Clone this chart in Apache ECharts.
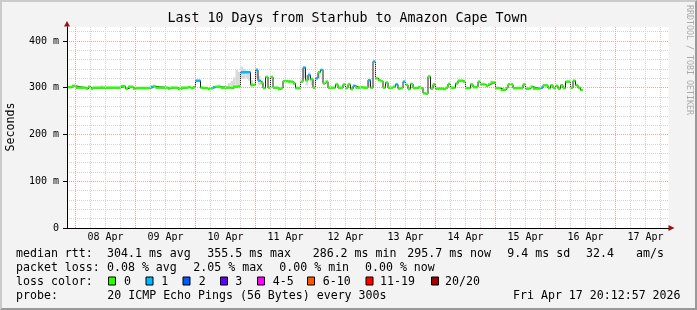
<!DOCTYPE html>
<html><head><meta charset="utf-8">
<script src="https://cdn.jsdelivr.net/npm/echarts@6/dist/echarts.min.js"></script>
<style>
html,body{margin:0;padding:0;background:#f3f3f3;}
#wrap{position:relative;width:697px;height:310px;overflow:hidden;}
#c{position:absolute;left:0;top:0;width:697px;height:310px;}
#frame{position:absolute;left:0;top:0;width:697px;height:310px;box-sizing:border-box;border-style:solid;border-width:2px;border-color:#cbcbcb #999999 #999999 #cbcbcb;pointer-events:none;}
</style></head><body>
<div id="wrap"><div id="c"></div><div id="frame"></div></div>
<script>
// ---------------- data ----------------
// hours counted from 08 Apr 00:00
const dayLabels = ['08 Apr','09 Apr','10 Apr','11 Apr','12 Apr','13 Apr','14 Apr','15 Apr','16 Apr','17 Apr'];
const dayNoonHours = [12,36,60,84,108,132,156,180,204,228];
const yTickValues = [0,100,200,300,400];
const yTickLabels = ['0','100 m','200 m','300 m','400 m'];

// median RTT samples (ms); each value holds until the next sample hour
const sampleHours = [
  -3,-1.5,0,4,5,6,7,18,20,21,
  23,24,30,31,32,37,38,41,42,45,
  46,47,48,50,51,53,54,55,56,58,
  62,63,65,66,70,72,73,74,75,76,
  77,78,79,81,82,83,85,87,88,90,
  91,92,93,94,95,96,97,98,99,100,
  101,104,105,107,108,109,110,111,112,114,
  115,117,118,119,120,121,122,123,124,125,
  127,128,129,130,131,132,133,134,135,137,
  138,139,140,141,142,143,144,147,148,149,
  150,152,153,155,156,158,159,161,162,164,
  165,166,168,170,172,173,175,179,180,182,
  183,186,187,189,190,191,192,193,194,195,
  196,198,199,200,201,202];
const medianMs = [
  301,304,300,298,302,298,300,303,298,302,
  298,299,301,303,300,298,300,297,300,301,
  299,301,315,300,299,297,299,301,302,300,
  299,302,303,333,306,338,315,311,299,323,
  300,323,300,297,299,314,313,309,299,313,
  343,316,327,318,300,320,333,338,309,313,
  300,307,300,307,299,307,297,304,300,301,
  300,316,300,356,320,316,314,300,311,300,
  302,307,298,299,313,306,297,308,299,301,
  299,288,287,324,298,307,298,297,300,308,
  300,309,315,313,299,307,301,313,307,304,
  307,311,299,295,299,307,299,307,298,302,
  298,300,305,299,305,299,304,298,305,299,
  313,300,315,305,300,295];
const lastSampleEnd = 203;
// sample hours where 1 of 20 pings was lost
const lossOneHours = [30,48,55,66,72,73,91,93,96,98,111,117,119,128,131,186];

// smoke (spread of individual pings), ms
const smokeHours = [10,30,57,61,62,63,64,65,66,67,68,69,70,72,73,74,91,92,93,94,97,117,143,192];
const smokeLow  = [300,300,300,300,300,302,303,305,318,320,320,315,300,320,305,305,320,305,315,305,320,300,300,300];
const smokeHigh = [305,306,307,310,314,322,338,334,345,340,336,330,316,342,326,316,345,328,333,322,336,318,310,306];

const lossLegendLabels = ['0','1','2','3','4-5','6-10','11-19','20/20'];
const lossLegendColors = ['#26ff00','#00b8ff','#0059ff','#5e00ff','#ff00ff','#ff5500','#ff0000','#a00000'];

const rttStats  = ['304.1 ms avg','355.5 ms max','286.2 ms min','295.7 ms now','9.4 ms sd','32.4','am/s'];
const lossStats = ['0.08 % avg','2.05 % max','0.00 % min','0.00 % now'];
const probeText = '20 ICMP Echo Pings (56 Bytes) every 300s';
const stampText = 'Fri Apr 17 20:12:57 2026';
const titleText = 'Last 10 Days from Starhub to Amazon Cape Town';

// ---------------- chart ----------------
const FONT = "'DejaVu Sans Mono', monospace";
const X_MIN = -3.4, X_MAX = 237.2, Y_MAX = 430;
const GRID = {left: 67, top: 26.9, width: 601.5, height: 201.1};
const RED = '#f4a0a0', GRAY = '#d4d4d4';

const vLines = [];
for (let h = 0; h <= X_MAX; h += 6) {
  vLines.push({xAxis: h, lineStyle: {color: h % 24 === 0 ? RED : GRAY, type: [1, 1], width: 1}});
}

const lossOf = h => lossOneHours.indexOf(h) >= 0 ? 1 : 0;
const bandData = sampleHours.map((h, i) => [h, i + 1 < sampleHours.length ? sampleHours[i + 1] : lastSampleEnd, medianMs[i], lossOf(h)]);
const lineData = sampleHours.map((h, i) => [h, medianMs[i]]).concat([[lastSampleEnd, medianMs[medianMs.length - 1]]]);
const smokeData = smokeHours.map((h, i) => [h, h + 1, smokeLow[i], smokeHigh[i]]);

const chart = echarts.init(document.getElementById('c'), null, {renderer: 'canvas'});

const txt = (text, x, y, opts) => Object.assign({
  type: 'text', x: x, y: y, silent: true,
  style: Object.assign({text: text, x: 0, y: 0, font: '11.6px ' + FONT, fill: '#000',
    align: 'left', verticalAlign: 'middle', textAlign: 'left', textVerticalAlign: 'middle'}, (opts && opts.style) || {})
}, opts ? {rotation: opts.rotation || 0} : {});

const graphics = [];
graphics.push(txt(titleText, 347.5, 19, {style: {font: '13.3px ' + FONT, align: 'center', textAlign: 'center'}}));
graphics.push(txt('Seconds', 11, 127, {rotation: Math.PI / 2, style: {align: 'center', textAlign: 'center'}}));
graphics.push(txt('RRDTOOL / TOBI OETIKER', 689, 5, {rotation: -Math.PI / 2, style: {font: '8.3px ' + FONT, fill: '#aaaaaa'}}));
// legend rows
const L1 = 253.5, L2 = 267.8, L3 = 281.5, L4 = 296;
graphics.push(txt('median rtt:', 16, L1));
[107, 207.3, 312.7, 407.3, 507.3, 586, 636].forEach((x, i) => graphics.push(txt(rttStats[i], x, L1)));
graphics.push(txt('packet loss:', 16, L2));
[107, 193.3, 279.3, 365].forEach((x, i) => graphics.push(txt(lossStats[i], x, L2)));
graphics.push(txt('loss color:', 16, L3));
const boxX = [108, 145.5, 182.5, 220, 257, 307, 365.5, 431];
const labX = [124, 161.3, 198.7, 235.3, 272.7, 322.7, 380, 445];
lossLegendLabels.forEach((lab, i) => {
  graphics.push({type: 'rect', silent: true, shape: {x: boxX[i] + 0.5, y: L3 - 4.5, width: 7, height: 8},
    style: {fill: lossLegendColors[i], stroke: '#000', lineWidth: 1}});
  graphics.push(txt(lab, labX[i], L3));
});
graphics.push(txt('probe:', 16, L4));
graphics.push(txt(probeText, 107.3, L4));
graphics.push(txt(stampText, 513, L4));
// axis arrows
graphics.push({type: 'polygon', silent: true, shape: {points: [[67, 21], [64, 26.5], [70, 26.5]]}, style: {fill: '#a01010'}});
graphics.push({type: 'polygon', silent: true, shape: {points: [[674.5, 228], [668.5, 225], [668.5, 231]]}, style: {fill: '#a01010'}});

chart.setOption({
  animation: false,
  backgroundColor: '#f3f3f3',
  grid: Object.assign({containLabel: false, outerBoundsMode: 'none', show: true, backgroundColor: '#ffffff', borderWidth: 0}, GRID),
  xAxis: {
    type: 'value', min: X_MIN, max: X_MAX,
    axisLine: {show: true, onZero: false, lineStyle: {color: '#000', width: 1}},
    axisTick: {show: false},
    splitLine: {show: false},
    axisLabel: {
      customValues: dayNoonHours, margin: 4, fontSize: 10, fontFamily: FONT, color: '#000',
      formatter: v => { const i = dayNoonHours.indexOf(Math.round(v)); return i >= 0 ? dayLabels[i] : ''; }
    }
  },
  yAxis: [
    {
      type: 'value', min: 0, max: Y_MAX, position: 'left', z: 5,
      axisLine: {show: true, onZero: false, lineStyle: {color: '#000', width: 1}},
      axisTick: {show: true, customValues: yTickValues, length: 4, lineStyle: {color: '#000'}},
      splitLine: {show: false},
      axisLabel: {
        customValues: yTickValues, margin: 8, fontSize: 10, fontFamily: FONT, color: '#000',
        formatter: v => { const i = yTickValues.indexOf(Math.round(v)); return i >= 0 ? yTickLabels[i] : ''; }
      }
    },
    {
      type: 'value', min: 0, max: Y_MAX, interval: 20, position: 'left', z: 0,
      axisLine: {show: false}, axisTick: {show: false}, axisLabel: {show: false},
      splitLine: {show: true, showMinLine: true, showMaxLine: false,
        lineStyle: {color: [RED, GRAY, GRAY, GRAY, GRAY], type: [1, 1], width: 1}}
    }
  ],
  series: [
    {
      type: 'line', data: [], z: 1, silent: true,
      markLine: {silent: true, symbol: ['none', 'none'], label: {show: false}, animation: false,
        emphasis: {disabled: true}, data: vLines}
    },
    {
      type: 'custom', z: 2, silent: true, data: smokeData, encode: {x: [0, 1], y: [2, 3]},
      renderItem: (params, api) => {
        const a = api.coord([api.value(0), api.value(3)]);
        const b = api.coord([api.value(1), api.value(2)]);
        return {type: 'rect', shape: {x: a[0], y: a[1], width: b[0] - a[0], height: b[1] - a[1]},
          style: {fill: '#dadada'}};
      }
    },
    {
      type: 'line', z: 3, silent: true, data: lineData, step: 'end', showSymbol: false,
      lineStyle: {color: '#202020', width: 1}
    },
    {
      type: 'custom', z: 4, silent: true, data: bandData, encode: {x: [0, 1], y: 2},
      renderItem: (params, api) => {
        const a = api.coord([api.value(0), api.value(2)]);
        const b = api.coord([api.value(1), api.value(2)]);
        return {type: 'rect', shape: {x: a[0], y: a[1] - 1.25, width: b[0] - a[0], height: 2.5},
          style: {fill: lossLegendColors[api.value(3)]}};
      }
    }
  ],
  graphic: {elements: graphics}
});
</script>
</body></html>
